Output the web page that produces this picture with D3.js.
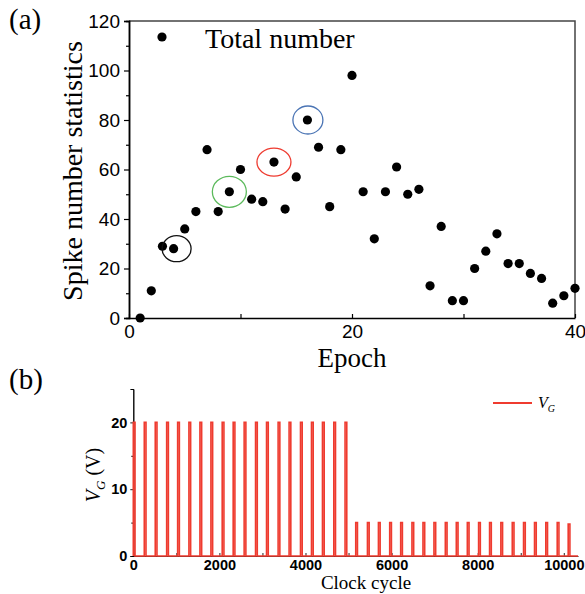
<!DOCTYPE html>
<html>
<head>
<meta charset="utf-8">
<script src="https://cdn.jsdelivr.net/npm/d3@7"></script>
<style>
  body { margin: 0; background: #fff; }
  .serif { font-family: "Liberation Serif", "Times New Roman", serif; }
  .tick text { font-family: "Liberation Sans", Arial, sans-serif; fill: #000; }
</style>
</head>
<body>
<svg id="chart" width="585" height="594"></svg>
<script>
// Panel (a) data: spike number per epoch
var epochs = [1, 2, 3, 4, 5, 6, 7, 8, 9, 10,
              11, 12, 13, 14, 15, 16, 17, 18, 19, 20,
              21, 22, 23, 24, 25, 26, 27, 28, 29, 30,
              31, 32, 33, 34, 35, 36, 37, 38, 39, 40];
var spikeCounts = [0, 11, 29, 28, 36, 43, 68, 43, 51, 60,
                   48, 47, 63, 44, 57, 80, 69, 45, 68, 98,
                   51, 32, 51, 61, 50, 52, 13, 37, 7, 7,
                   20, 27, 34, 22, 22, 18, 16, 6, 9, 12];
var circledEpochs = [4, 9, 13, 16];
var epochTicks = [0, 10, 20, 30, 40];
var countTicks = [0, 20, 40, 60, 80, 100, 120];

// Panel (b) data: gate pulses (clock cycle, volts)
var pulseCycles = [0, 255, 510, 775, 1030, 1292, 1548, 1803, 2065, 2320,
                   2575, 2840, 3095, 3364, 3619, 3884, 4139, 4394, 4657, 4919,
                   5167, 5439, 5694, 5956, 6211, 6473, 6729, 6984, 7248, 7503,
                   7759, 8021, 8276, 8538, 8803, 9065, 9320, 9582, 9847, 10102];
var pulseVolts = [20, 20, 20, 20, 20, 20, 20, 20, 20, 20,
                  20, 20, 20, 20, 20, 20, 20, 20, 20, 20,
                  5, 5, 5, 5, 5, 5, 5, 5, 5, 5,
                  5, 5, 5, 5, 5, 5, 5, 5, 5, 4.8];
var cycleTicks = [0, 2000, 4000, 6000, 8000, 10000];
var voltTicks = [0, 10, 20];

var svg = d3.select("#chart");

// ---------- Panel (a) ----------
var xa = d3.scaleLinear().domain([0, 40]).range([129, 575]);
var ya = d3.scaleLinear().domain([0, 120]).range([318, 21]);

// Frame (top and right)
svg.append("path")
   .attr("d", "M" + xa(0) + "," + ya(120) + "H" + xa(40) + "V" + ya(0))
   .attr("fill", "none")
   .attr("stroke", "#444")
   .attr("stroke-width", 1.5);

// Y axis with minor ticks
var yaAxis = svg.append("g")
   .attr("transform", "translate(" + xa(0) + ",0)")
   .call(d3.axisLeft(ya).tickValues(countTicks).tickSize(5).tickPadding(4));
svg.append("g")
   .attr("transform", "translate(" + xa(0) + ",0)")
   .call(d3.axisLeft(ya).tickValues([10, 30, 50, 70, 90, 110])
                        .tickSize(3).tickFormat(""));

// X axis, ticks pointing inward
var xaAxis = svg.append("g")
   .attr("transform", "translate(0," + ya(0) + ")")
   .call(d3.axisBottom(xa).tickValues(epochTicks)
                          .tickSizeInner(-4).tickSizeOuter(0).tickPadding(7)
                          .tickFormat(function(d) { return d % 20 === 0 ? d : ""; }));

svg.selectAll("g .domain").attr("stroke", "#000").attr("stroke-width", 1.5);
svg.selectAll("g .tick line").attr("stroke", "#000").attr("stroke-width", 1.2);
yaAxis.selectAll("text").style("font-size", "19px");
xaAxis.selectAll("text").style("font-size", "19px");

// Scatter points
svg.append("g").selectAll("circle")
   .data(epochs)
   .enter().append("circle")
   .attr("cx", function(d) { return xa(d); })
   .attr("cy", function(d, i) { return ya(spikeCounts[i]); })
   .attr("r", 4.6)
   .attr("fill", "#000");

// Highlight rings
var ringColors = ["#111", "#5cba5c", "#ee3b30", "#4a74b4"];
var ringSizes = [[14.5, 13, 3], [17, 15.5, 0], [17, 14, 0], [15, 14, 0.5]];
svg.append("g").selectAll("ellipse")
   .data(circledEpochs)
   .enter().append("ellipse")
   .attr("cx", function(d, i) { return xa(d) + ringSizes[i][2]; })
   .attr("cy", function(d) { return ya(spikeCounts[epochs.indexOf(d)]); })
   .attr("rx", function(d, i) { return ringSizes[i][0]; })
   .attr("ry", function(d, i) { return ringSizes[i][1]; })
   .attr("fill", "none")
   .attr("stroke", function(d, i) { return ringColors[i]; })
   .attr("stroke-width", 1.3);

// Legend
svg.append("circle").attr("cx", 162).attr("cy", 37).attr("r", 4.6).attr("fill", "#000");
svg.append("text").attr("class", "serif")
   .attr("x", 205).attr("y", 48)
   .style("font-size", "28px")
   .text("Total number");

// Axis titles
svg.append("text").attr("class", "serif")
   .attr("transform", "translate(82,171) rotate(-90)")
   .attr("text-anchor", "middle")
   .style("font-size", "28px")
   .text("Spike number statistics");
svg.append("text").attr("class", "serif")
   .attr("x", 352).attr("y", 367)
   .attr("text-anchor", "middle")
   .style("font-size", "27px")
   .text("Epoch");
svg.append("text").attr("class", "serif")
   .attr("x", 9).attr("y", 29)
   .style("font-size", "29px")
   .text("(a)");

// ---------- Panel (b) ----------
var xb = d3.scaleLinear().domain([0, 10330]).range([133.3, 578]);
var yb = d3.scaleLinear().domain([0, 25]).range([556, 389]);

var ybAxis = svg.append("g")
   .attr("transform", "translate(" + xb(0) + ",0)")
   .call(d3.axisLeft(yb).tickValues(voltTicks).tickSize(3).tickPadding(3));
svg.append("g")
   .attr("transform", "translate(" + xb(0) + ",0)")
   .call(d3.axisLeft(yb).tickValues([5, 15, 25]).tickSize(2).tickFormat(""));
var xbAxis = svg.append("g")
   .attr("transform", "translate(0," + yb(0) + ")")
   .call(d3.axisBottom(xb).tickValues([0, 1000, 2000, 3000, 4000, 5000, 6000, 7000, 8000, 9000, 10000])
                          .tickSizeInner(-3).tickSizeOuter(0).tickPadding(4)
                          .tickFormat(function(d) { return d % 2000 === 0 ? d : ""; }));
ybAxis.selectAll(".domain, .tick line").attr("stroke", "#222").attr("stroke-width", 1);
xbAxis.selectAll(".domain, .tick line").attr("stroke", "#222").attr("stroke-width", 1);
ybAxis.selectAll("text").style("font-size", "14.5px").style("font-weight", "bold");
xbAxis.selectAll("text").style("font-size", "14.5px").style("font-weight", "bold");

// Pulse train
var pulseWidth = 40;
var trace = [[0, 0]];
pulseCycles.forEach(function(t, i) {
  trace.push([t, 0], [t, pulseVolts[i]], [t + pulseWidth, pulseVolts[i]], [t + pulseWidth, 0]);
});
trace.push([10330, 0]);
var line = d3.line()
   .x(function(d) { return xb(d[0]); })
   .y(function(d) { return yb(d[1]); });
svg.append("path")
   .datum(trace)
   .attr("d", line)
   .attr("fill", "none")
   .attr("stroke", "#ef3b2f")
   .attr("stroke-width", 1.6);

// Legend
svg.append("line")
   .attr("x1", 493).attr("x2", 532).attr("y1", 403).attr("y2", 403)
   .attr("stroke", "#ef3b2f").attr("stroke-width", 1.8);
var lg = svg.append("text").attr("class", "serif")
   .attr("x", 538).attr("y", 408)
   .style("font-size", "16px").style("font-style", "italic");
lg.append("tspan").text("V");
lg.append("tspan").attr("dy", 4).style("font-size", "10px").text("G");

// Axis titles
var yt = svg.append("text").attr("class", "serif")
   .attr("transform", "translate(100,475) rotate(-90)")
   .attr("text-anchor", "middle")
   .style("font-size", "20px");
yt.append("tspan").style("font-style", "italic").text("V");
yt.append("tspan").attr("dy", 5).style("font-size", "13px").style("font-style", "italic").text("G");
yt.append("tspan").attr("dy", -5).text(" (V)");
svg.append("text").attr("class", "serif")
   .attr("x", 366).attr("y", 589)
   .attr("text-anchor", "middle")
   .style("font-size", "19px")
   .text("Clock cycle");
svg.append("text").attr("class", "serif")
   .attr("x", 9).attr("y", 389)
   .style("font-size", "29px")
   .text("(b)");
</script>
</body>
</html>
